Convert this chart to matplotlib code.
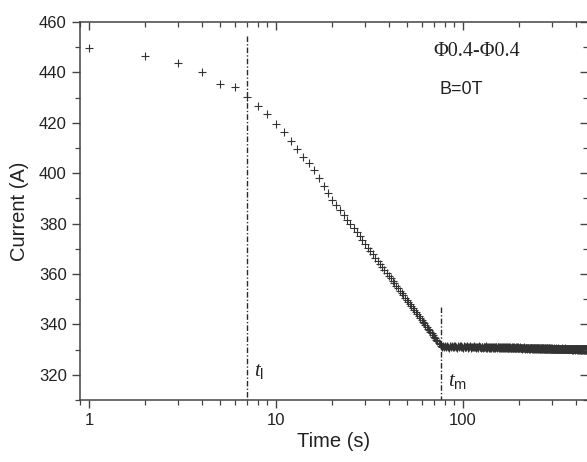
import numpy as np
import matplotlib
matplotlib.use("Agg")
import matplotlib.pyplot as plt
from matplotlib.ticker import LogLocator, FixedLocator, NullFormatter, MultipleLocator

plt.rcParams['font.family'] = ['Liberation Sans', 'DejaVu Sans']
plt.rcParams['mathtext.fontset'] = 'custom'
plt.rcParams['mathtext.it'] = 'Liberation Serif:italic'
plt.rcParams['mathtext.rm'] = 'Liberation Sans'

# ---- data (time sampled every 1 s) ----
current_early = [449.6, 446.7, 443.6, 440.1, 435.5, 434.2, 430.1, 426.6, 423.4, 419.7,
                 416.3, 412.7, 409.6, 406.5, 404.1, 401.2, 398.2, 395.1, 392.2, 389.5,
                 387.4, 385.4, 383.4, 381.6, 379.8, 378.1, 376.5, 374.9, 373.4, 371.9,
                 370.5, 369.1, 367.8, 366.5, 365.2, 364.0, 362.8, 361.6, 360.5, 359.4,
                 358.3, 357.3, 356.3, 355.3, 354.3, 353.3, 352.4, 351.5, 350.6, 349.7,
                 348.8, 348.0, 347.2, 346.4, 345.6, 344.8, 344.0, 343.3, 342.5, 341.8,
                 341.1, 340.4, 339.7, 339.0, 338.3, 337.7, 337.0, 336.4, 335.7, 335.1,
                 334.5, 333.9, 333.3, 332.7, 332.1, 331.5]
current_plateau = [
    331.2, 331.6, 330.9, 331.4, 331.0, 331.5, 331.1, 330.8, 331.4, 331.2, 331.6, 330.9, 331.3, 331.0, 331.5, 331.2, 330.8, 331.4, 331.1, 331.3,
    330.9, 331.4, 331.1, 330.8, 331.3, 330.9, 331.2, 331.0, 331.4, 330.8, 331.1, 331.0, 331.3, 330.8, 331.2, 331.0, 330.9, 331.3, 331.0, 331.2,
    330.7, 331.2, 330.9, 331.1, 330.7, 331.3, 330.9, 331.1, 330.8, 331.2, 331.0, 330.7, 331.2, 330.9, 331.1, 330.8, 331.3, 330.9, 330.7, 331.1,
    330.8, 331.1, 330.7, 331.2, 330.9, 330.6, 331.1, 330.8, 331.0, 330.7, 331.2, 330.9, 330.7, 331.1, 330.9, 330.8, 331.2, 330.9, 330.7, 331.0,
    330.7, 331.0, 330.8, 331.1, 330.9, 330.6, 331.0, 330.8, 331.1, 330.7, 330.9, 330.6, 331.0, 330.8, 330.7, 331.1, 330.8, 330.6, 331.0, 330.9,
    330.8, 330.6, 331.0, 330.8, 330.5, 330.9, 330.7, 331.0, 330.6, 330.8, 330.5, 330.9, 330.7, 330.6, 331.0, 330.7, 330.5, 330.9, 330.8, 330.6,
    330.9, 330.7, 330.5, 330.8, 330.6, 330.9, 330.7, 330.5, 330.8, 330.6, 330.4, 330.8, 330.7, 330.5, 330.9, 330.6, 330.7, 330.4, 330.8, 330.6,
    330.5, 330.8, 330.6, 330.4, 330.7, 330.5, 330.8, 330.6, 330.4, 330.7, 330.5, 330.7, 330.4, 330.6, 330.8, 330.5, 330.4, 330.7, 330.6, 330.4,
    330.7, 330.5, 330.6, 330.3, 330.7, 330.5, 330.4, 330.7, 330.6, 330.3, 330.6, 330.5, 330.7, 330.4, 330.5, 330.3, 330.6, 330.5, 330.4, 330.7,
    330.4, 330.6, 330.3, 330.5, 330.7, 330.4, 330.5, 330.3, 330.6, 330.4, 330.5, 330.2, 330.6, 330.4, 330.5, 330.3, 330.6, 330.4, 330.2, 330.5,
    330.4, 330.6, 330.3, 330.5, 330.2, 330.4, 330.6, 330.3, 330.5, 330.4, 330.2, 330.5, 330.3, 330.6, 330.4, 330.2, 330.5, 330.3, 330.4, 330.2,
    330.5, 330.3, 330.4, 330.2, 330.5, 330.3, 330.1, 330.4, 330.3, 330.5, 330.2, 330.4, 330.3, 330.1, 330.4, 330.2, 330.5, 330.3, 330.2, 330.4,
    330.3, 330.1, 330.4, 330.2, 330.5, 330.3, 330.1, 330.4, 330.2, 330.3, 330.1, 330.4, 330.3, 330.2, 330.4, 330.1, 330.3, 330.2, 330.4, 330.1,
    330.4, 330.2, 330.5, 330.3, 330.1, 330.4, 330.2, 330.3, 330.1, 330.4, 330.3, 330.2, 330.5, 330.2, 330.3, 330.1, 330.4, 330.2, 330.3, 330.1,
    330.3, 330.2, 330.4, 330.1, 330.3, 330.2, 330.4, 330.1, 330.2, 330.4, 330.3, 330.1, 330.3, 330.2, 330.4, 330.1, 330.3, 330.2, 330.1, 330.3,
    330.2, 330.4, 330.1, 330.3, 330.2, 330.0, 330.3, 330.2, 330.4, 330.1, 330.2, 330.3, 330.0, 330.3, 330.2, 330.1, 330.4, 330.2, 330.1, 330.3,
    330.2, 330.0, 330.3, 330.1, 330.4, 330.2, 330.1, 330.3, 330.0, 330.2, 330.3, 330.1, 330.2, 330.0, 330.3, 330.2, 330.1, 330.3, 330.2, 330.0,
    330.3, 330.1, 330.2, 330.0, 330.3, 330.2, 330.1, 330.3, 330.0, 330.2, 330.1, 330.3, 330.2, 330.0, 330.2, 330.1, 330.3, 330.1, 330.0, 330.2,
    330.1, 330.3, 330.0, 330.2, 330.1, 330.3, 330.0, 330.2, 330.1, 330.0, 330.2, 330.1, 330.3, 330.0, 330.2, 330.1, 330.0, 330.2, 330.1, 330.3,
    330.0, 330.2, 330.1, 330.0, 330.2, 330.1, 330.3, 330.0, 330.1, 330.2, 330.0, 330.1, 330.2, 330.0, 330.1, 330.2, 330.0, 330.1, 330.2, 330.0,
]
current = current_early + current_plateau
time_s = np.arange(1, len(current) + 1)

t_l = 7.0
t_m = 76.0
yticks = [320, 340, 360, 380, 400, 420, 440, 460]
xticks = [1, 10, 100]
xtick_labels = ['1', '10', '100']

# ---- figure ----
W, H = 587, 462
fig = plt.figure(figsize=(W / 100, H / 100), dpi=100)
L, R, T, B = 80, 588, 22, 400
ax = fig.add_axes([L / W, 1 - B / H, (R - L) / W, (B - T) / H])

col = '#2a2a2a'
ax.plot(time_s, current, linestyle='none', marker='+', markersize=5.5,
        markeredgewidth=0.8, color='#333333', clip_on=True)

ax.set_xscale('log')
ax.set_xlim(0.895, 10 ** ((R - 89) / 187.0))
ax.set_ylim(310, 460)

# vertical dash-dot markers
ax.plot([t_l, t_l], [454.3, 310], color=col, lw=1.0, dashes=(4, 1.5, 1, 1.5))
ax.plot([t_m, t_m], [347.0, 310], color=col, lw=1.0, dashes=(4, 1.5, 1, 1.5))

ax.text(7.6, 321.5, r'$t_{\mathrm{l}}$', fontsize=15, color='#222222', ha='left', va='center')
ax.text(83, 317.5, r'$t_{\mathrm{m}}$', fontsize=15, color='#222222', ha='left', va='center')

ax.text(119, 448.4, 'Φ0.4-Φ0.4', family=['Liberation Serif', 'DejaVu Serif'],
        fontsize=14.5, color='#222222', ha='center', va='center')
ax.text(97.6, 433.4, 'B=0T', fontsize=13, color='#222222', ha='center', va='center')

ax.set_xlabel('Time (s)', fontsize=14.5, color='#222222', labelpad=3)
ax.set_ylabel('Current (A)', fontsize=14.5, color='#222222', labelpad=7)

ax.set_yticks(yticks)
ax.yaxis.set_minor_locator(MultipleLocator(10))
ax.xaxis.set_major_locator(FixedLocator(xticks))
ax.set_xticklabels(xtick_labels)
ax.xaxis.set_minor_locator(LogLocator(base=10, subs=np.arange(2, 10)))
ax.xaxis.set_minor_formatter(NullFormatter())

for s in ax.spines.values():
    s.set_color('#444444')
    s.set_linewidth(1.1)

ax.tick_params(which='major', direction='out', length=6, width=1.0, color='#444444',
               labelsize=12, labelcolor='#222222', top=False, right=False)
ax.tick_params(which='minor', direction='out', length=3.5, width=0.9, color='#444444',
               top=False, right=False)

# mirrored top/right ticks pointing inward
axt = ax.twiny()
axt.set_xscale('log')
axt.set_xlim(ax.get_xlim())
axt.xaxis.set_major_locator(FixedLocator(xticks))
axt.xaxis.set_minor_locator(LogLocator(base=10, subs=np.arange(2, 10)))
axt.tick_params(which='major', direction='in', length=6, width=1.0, color='#444444', labeltop=False)
axt.tick_params(which='minor', direction='in', length=3.5, width=0.9, color='#444444')
axt.xaxis.set_major_formatter(NullFormatter())
axt.xaxis.set_minor_formatter(NullFormatter())
for s in axt.spines.values():
    s.set_visible(False)

axr = ax.twinx()
axr.set_ylim(ax.get_ylim())
axr.set_yticks(yticks)
axr.yaxis.set_minor_locator(MultipleLocator(10))
axr.tick_params(which='major', direction='in', length=6, width=1.0, color='#444444', labelright=False)
axr.tick_params(which='minor', direction='in', length=3.5, width=0.9, color='#444444')
for s in axr.spines.values():
    s.set_visible(False)

fig.savefig('out.png', dpi=100)
